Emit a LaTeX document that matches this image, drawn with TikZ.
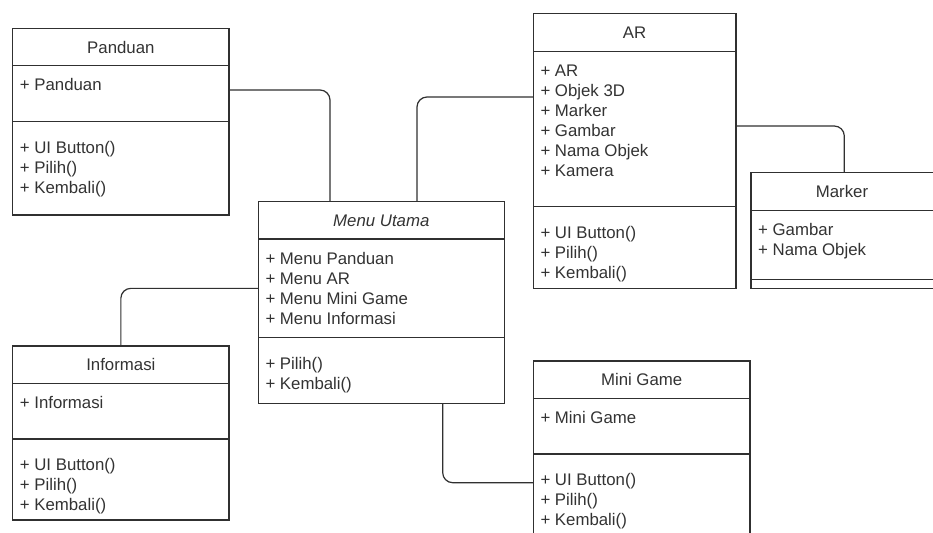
\documentclass[tikz,border=0pt]{standalone}
\usepackage{fontspec}
\setmainfont{Liberation Sans}
\definecolor{linec}{HTML}{303030}
\definecolor{txtc}{HTML}{333333}
\tikzset{
  comp/.style={draw=linec, line width=1.2pt, fill=white, inner sep=0pt, outer sep=0pt, anchor=north west},
  title/.style={text=txtc, inner sep=0pt, font=\fontsize{16.8}{20}\selectfont},
  list/.style={text=txtc, inner sep=0pt, anchor=north west, align=left, font=\fontsize{16.8}{20}\selectfont},
  conn/.style={draw=linec, line width=1.2pt, rounded corners=10pt}
}
\begin{document}
\begin{tikzpicture}[x=1pt,y=-1pt]
\clip (0,0) rectangle (933,532);
\fill[white] (0,0) rectangle (933,532);

% Panduan
\node[comp, minimum width=216.3pt, minimum height=37.4pt] (panH) at (12.7,28.3) {};
\node[comp, minimum width=216.3pt, minimum height=56pt] (panA) at (panH.south west) {};
\node[comp, minimum width=216.3pt, minimum height=93.3pt] (panO) at (panA.south west) {};
\node[title] (panT) at (panH.center) {Panduan};
\node[list] (panAL) at ([xshift=7pt,yshift=-11pt]panA.north west) {\strut+ Panduan};
\node[list] (panOL) at ([xshift=7pt,yshift=-17.5pt]panO.north west) {\strut+ UI Button()\\+ Pilih()\\+ Kembali()};

% Menu Utama
\node[comp, minimum width=246pt, minimum height=37.3pt] (menuH) at (258.3,201.7) {};
\node[comp, minimum width=246pt, minimum height=98.7pt] (menuA) at (menuH.south west) {};
\node[comp, minimum width=246pt, minimum height=65.6pt] (menuO) at (menuA.south west) {};
\node[title, font=\fontsize{16.8}{20}\selectfont\itshape] (menuT) at (menuH.center) {Menu Utama};
\node[list] (menuAL) at ([xshift=7pt,yshift=-11pt]menuA.north west) {\strut+ Menu Panduan\\+ Menu AR\\+ Menu Mini Game\\+ Menu Informasi};
\node[list] (menuOL) at ([xshift=7pt,yshift=-17.5pt]menuO.north west) {\strut+ Pilih()\\+ Kembali()};

% AR
\node[comp, minimum width=202.7pt, minimum height=38.4pt] (arH) at (533.3,13.3) {};
\node[comp, minimum width=202.7pt, minimum height=155pt] (arA) at (arH.south west) {};
\node[comp, minimum width=202.7pt, minimum height=81.6pt] (arO) at (arA.south west) {};
\node[title] (arT) at (arH.center) {AR};
\node[list] (arAL) at ([xshift=7pt,yshift=-11pt]arA.north west) {\strut+ AR\\+ Objek 3D\\+ Marker\\+ Gambar\\+ Nama Objek\\+ Kamera};
\node[list] (arOL) at ([xshift=7pt,yshift=-17.5pt]arO.north west) {\strut+ UI Button()\\+ Pilih()\\+ Kembali()};

% Marker
\node[comp, minimum width=209pt, minimum height=38pt] (mkH) at (751,172.7) {};
\node[comp, minimum width=209pt, minimum height=68.6pt] (mkA) at (mkH.south west) {};
\node[comp, minimum width=209pt, minimum height=9pt] (mkO) at (mkA.south west) {};
\node[title] (mkT) at ([xshift=-13.5pt]mkH.center) {Marker};
\node[list] (mkAL) at ([xshift=7pt,yshift=-11pt]mkA.north west) {\strut+ Gambar\\+ Nama Objek};

% Informasi
\node[comp, minimum width=216.3pt, minimum height=37.3pt] (infH) at (12.7,346) {};
\node[comp, minimum width=216.3pt, minimum height=55.7pt] (infA) at (infH.south west) {};
\node[comp, minimum width=216.3pt, minimum height=81pt] (infO) at (infA.south west) {};
\node[title] (infT) at (infH.center) {Informasi};
\node[list] (infAL) at ([xshift=7pt,yshift=-11pt]infA.north west) {\strut+ Informasi};
\node[list] (infOL) at ([xshift=7pt,yshift=-17.5pt]infO.north west) {\strut+ UI Button()\\+ Pilih()\\+ Kembali()};

% Mini Game
\node[comp, minimum width=216.7pt, minimum height=37.3pt] (miniH) at (533.3,361) {};
\node[comp, minimum width=216.7pt, minimum height=55.7pt] (miniA) at (miniH.south west) {};
\node[comp, minimum width=216.7pt, minimum height=95pt] (miniO) at (miniA.south west) {};
\node[title] (miniT) at (miniH.center) {Mini Game};
\node[list] (miniAL) at ([xshift=7pt,yshift=-11pt]miniA.north west) {\strut+ Mini Game};
\node[list] (miniOL) at ([xshift=7pt,yshift=-17.5pt]miniO.north west) {\strut+ UI Button()\\+ Pilih()\\+ Kembali()};

% connectors
\draw[conn] ([yshift=3.7pt]panA.east) -| ([xshift=71.7pt]menuH.north west);
\draw[conn] ([xshift=158.7pt]menuH.north west) |- ([yshift=-45.3pt]arA.north west);
\draw[conn] ([yshift=3.2pt]arA.east) -| ([xshift=93.3pt]mkH.north west);
\draw[conn] (menuA.west) -| (infH.north);
\draw[conn] ([xshift=184.4pt]menuO.south west) |- ([yshift=-28.7pt]miniO.north west);
\end{tikzpicture}
\end{document}
